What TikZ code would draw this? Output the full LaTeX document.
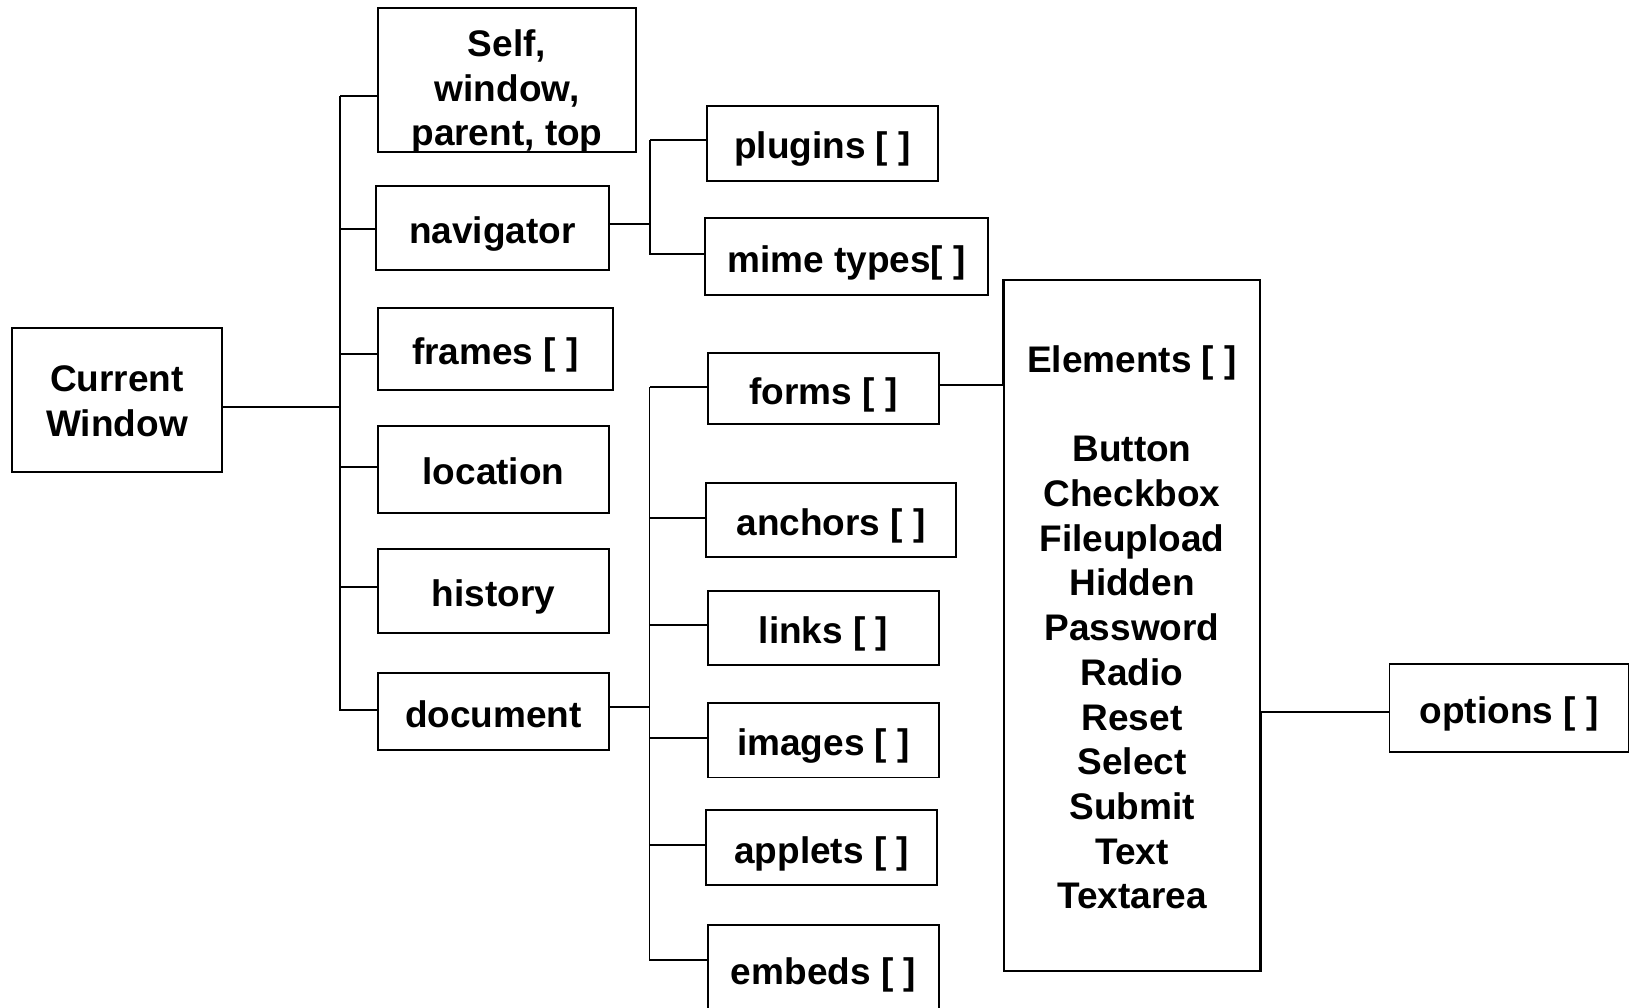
\documentclass[tikz,border=0pt]{standalone}
\usepackage{fontspec}
\setmainfont{Liberation Sans}
\begin{document}
\begin{tikzpicture}[x=1pt,y=-1pt,
  bx/.style={draw, line width=1.8pt, inner sep=0pt, font=\bfseries\fontsize{37}{44.7}\selectfont, text height=31pt, text depth=0pt},
  mt/.style={inner sep=0pt, align=center, font=\bfseries\fontsize{37}{44.7}\selectfont},
  wire/.style={line width=1.8pt}]
\useasboundingbox (0,0) rectangle (1633,1007);
\clip (0,0) rectangle (1633,1007);
\fill[white] (0,0) rectangle (1633,1007);

\node[bx, minimum width=210.7pt, minimum height=144pt] (cw) at (117,399.7) {};
\node[mt, yshift=-1.5pt] (cwt) at (cw.center) {Current\\Window};
\node[bx, minimum width=258pt, minimum height=144.6pt] (self) at (507,80) {};
\node[mt, yshift=-11.5pt] (selft) at (self.center) {Self,\\window,\\parent, top};
\node[bx, minimum width=233pt, minimum height=84pt] (nav) at (492.5,227.7) {navigator};
\node[bx, minimum width=235pt, minimum height=82pt] (frames) at (495.5,349) {frames [ ]};
\node[bx, minimum width=231pt, minimum height=86.9pt] (loc) at (493.5,469.2) {location};
\node[bx, minimum width=231pt, minimum height=84.3pt] (hist) at (493.5,590.8) {history};
\node[bx, minimum width=231pt, minimum height=76.6pt] (doc) at (493.5,711.6) {document};
\node[bx, minimum width=231.6pt, minimum height=74.7pt] (plug) at (822.5,143.4) {plugins [ ]};
\node[bx, minimum width=283.3pt, minimum height=77pt] (mime) at (846.7,256.8) {mime types[ ]};
\node[bx, minimum width=231.6pt, minimum height=71.6pt] (forms) at (823.5,388.5) {forms [ ]};
\node[bx, minimum width=250pt, minimum height=74.3pt] (anch) at (831,520.2) {anchors [ ]};
\node[bx, minimum width=231.6pt, minimum height=74.4pt] (links) at (823.5,628) {links [ ]};
\node[bx, minimum width=231.6pt, minimum height=74.3pt] (img) at (823.5,740.4) {images [ ]};
\node[bx, minimum width=231.3pt, minimum height=74.3pt] (appl) at (821.7,847.5) {applets [ ]};
\node[bx, minimum width=231.6pt, minimum height=88pt] (emb) at (823.5,969) {embeds [ ]};
\node[bx, minimum width=256pt, minimum height=690.7pt] (elem) at (1132,625.4) {};
\node[mt, yshift=-2pt] (elemt) at (elem.center) {Elements [ ]\\[44.7pt]Button\\Checkbox\\Fileupload\\Hidden\\Password\\Radio\\Reset\\Select\\Submit\\Text\\Textarea};
\node[bx, minimum width=239pt, minimum height=87.7pt] (opt) at (1509,707.9) {options [ ]};

\coordinate (b1) at (340,96);
\coordinate (b2) at (650,140);
\coordinate (b3) at (649.5,387);

\draw[wire] ([yshift=-16pt]self.west) -| (b1);
\draw[wire] ([yshift=1.7pt]doc.west) -| (b1);
\draw[wire] ([yshift=-7.6pt]cw.east) -| (b1);
\draw[wire] ([yshift=-1.3pt]nav.west) -| (b1);
\draw[wire] ([yshift=-5.3pt]frames.west) -| (b1);
\draw[wire] ([yshift=2.5pt]loc.west) -| (b1);
\draw[wire] ([yshift=3.9pt]hist.west) -| (b1);

\draw[wire] ([yshift=3.4pt]plug.west) -| (b2);
\draw[wire] ([yshift=2.8pt]mime.west) -| (b2);
\draw[wire] ([yshift=3.7pt]nav.east) -| (b2);

\draw[wire] ([yshift=1.5pt]forms.west) -| (b3);
\draw[wire] ([yshift=9pt]emb.west) -| (b3);
\draw[wire] ([yshift=4.6pt]doc.east) -| (b3);
\draw[wire] ([yshift=2pt]anch.west) -| (b3);
\draw[wire] ([yshift=3.2pt]links.west) -| (b3);
\draw[wire] ([yshift=2.4pt]img.west) -| (b3);
\draw[wire] ([yshift=2.5pt]appl.west) -| (b3);

\draw[wire] ([yshift=3.8pt]forms.east) -| (elem.north west);
\draw[wire] ([yshift=-4.4pt]opt.west) -| (elem.south east);
\end{tikzpicture}
\end{document}
